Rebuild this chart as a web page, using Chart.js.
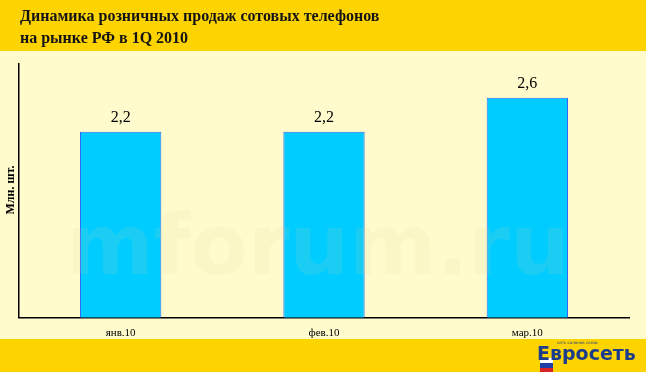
<!DOCTYPE html>
<html>
<head>
<meta charset="utf-8">
<script src="https://cdn.jsdelivr.net/npm/chart.js@4"></script>
<style>
  html, body { margin: 0; padding: 0; background: #FFFBCC; }
  #wrap { width: 646px; height: 372px; position: relative; }
</style>
</head>
<body>
<div id="wrap"><canvas id="salesChart"></canvas></div>
<script>
// data
const months = ['янв.10', 'фев.10', 'мар.10'];
const sales = [2.2, 2.2, 2.6];
const titleLines = ['Динамика розничных продаж сотовых телефонов', 'на рынке РФ в 1Q 2010'];
const yTitle = 'Млн. шт.';

const serif = '"Liberation Serif", "DejaVu Serif", serif';

// backgrounds, header, footer, labels and the logo
const decor = {
    id: 'decor',
    beforeDraw(chart) {
        const ctx = chart.ctx;
        const w = chart.width, h = chart.height;
        ctx.save();
        ctx.fillStyle = '#FFFBCC';
        ctx.fillRect(0, 0, w, h);
        ctx.fillStyle = '#FDD300';
        ctx.fillRect(0, 0, w, 51);
        ctx.fillRect(0, 339, w, h - 339);

        ctx.fillStyle = '#141414';
        ctx.font = 'bold 16px ' + serif;
        ctx.textBaseline = 'middle';
        ctx.textAlign = 'left';
        ctx.fillText(titleLines[0], 20, 17);
        ctx.fillText(titleLines[1], 20, 39);

        // y axis title
        ctx.translate(11, 190);
        ctx.rotate(-Math.PI / 2);
        ctx.textAlign = 'center';
        ctx.font = 'bold 12px ' + serif;
        ctx.fillStyle = '#000';
        ctx.fillText(yTitle, 0, 0);
        ctx.restore();
    },
    afterDatasetsDraw(chart) {
        const ctx = chart.ctx;
        ctx.save();
        // faint watermark
        ctx.font = 'bold 84px "DejaVu Sans", sans-serif';
        ctx.fillStyle = 'rgba(225, 215, 150, 0.12)';
        ctx.textAlign = 'center';
        ctx.textBaseline = 'middle';
        ctx.fillText('mforum.ru', 318, 252);

        // value labels
        ctx.font = '16px ' + serif;
        ctx.fillStyle = '#000';
        chart.getDatasetMeta(0).data.forEach((bar, i) => {
            ctx.fillText(sales[i].toFixed(1).replace('.', ','), bar.x, bar.y - 14);
        });

        // logo
        const lx = 545, ly = 345;
        ctx.fillStyle = '#fff';
        ctx.fillRect(lx - 5, ly + 13, 13, 5);
        ctx.fillStyle = '#1f3fa8';
        ctx.fillRect(lx - 5, ly + 18, 13, 5);
        ctx.fillStyle = '#d8222a';
        ctx.fillRect(lx - 5, ly + 23, 13, 5);
        ctx.fillStyle = '#1c3d8c';
        ctx.font = 'bold 19px "DejaVu Sans", sans-serif';
        ctx.textAlign = 'left';
        ctx.fillText('Евросеть', lx - 8, ly + 10);
        ctx.font = '4px "DejaVu Sans", sans-serif';
        ctx.fillText('сеть салонов связи', lx + 12, ly - 2);
        ctx.restore();
    }
};

new Chart(document.getElementById('salesChart'), {
    type: 'bar',
    data: {
        labels: months,
        datasets: [{
            data: sales,
            backgroundColor: '#00CCFF',
            borderColor: '#3366FF',
            borderWidth: 1,
            barPercentage: 0.4,
            categoryPercentage: 1
        }]
    },
    options: {
        responsive: true,
        maintainAspectRatio: false,
        animation: false,
        layout: { padding: { top: 64, left: 19, right: 17, bottom: 31 } },
        plugins: {
            legend: { display: false },
            tooltip: { enabled: false }
        },
        scales: {
            x: {
                grid: { display: false },
                border: { color: '#000', width: 1.5 },
                ticks: { color: '#000', font: { family: serif, size: 11 }, padding: 1 }
            },
            y: {
                min: 0,
                max: 3,
                grid: { display: false },
                border: { color: '#000', width: 1.5 },
                ticks: { display: false },
                afterFit(scale) { scale.width = 0; }
            }
        }
    },
    plugins: [decor]
});
</script>
</body>
</html>
